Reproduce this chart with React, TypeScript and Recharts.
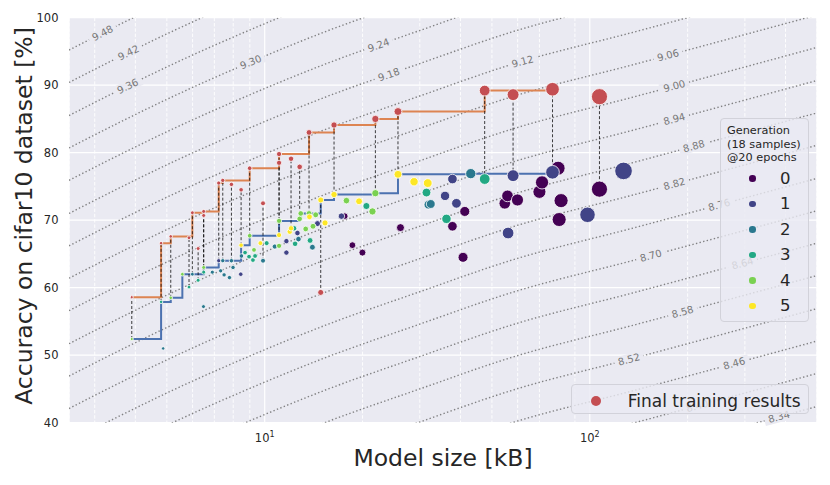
import React from 'react';
import {
    ComposedChart,
    XAxis,
    YAxis,
    CartesianGrid,
    Line,
    Scatter,
    ReferenceDot,
    Label,
} from 'recharts';

// chart geometry
const W = 830;
const H = 485;
const MARGIN = { top: 17.7, right: 13, bottom: 22.3, left: 0 };
const Y_AXIS_W = 69;
const X_AXIS_H = 40;
const PLOT_W = W - MARGIN.right - Y_AXIS_W;
const PLOT_H = H - MARGIN.top - MARGIN.bottom - X_AXIS_H;

const X_DOMAIN: [number, number] = [2.5, 500];
const Y_DOMAIN: [number, number] = [40, 100];
const yTicks = [40, 50, 60, 70, 80, 90, 100];
const xMajorTicks = [10, 100];
const xMinorTicks = [3, 4, 5, 6, 7, 8, 9, 20, 30, 40, 50, 60, 70, 80, 90, 200, 300, 400];

const GEN_COLORS = ['#440154', '#414487', '#2a788e', '#22a884', '#7ad151', '#fde725'];
const RED = '#c44e52';
const ORANGE = '#dd8452';
const BLUE = '#4c72b0';
const BG = '#eaeaf2';
const TEXT = '#262626';

// 20-epoch results per generation: [model size kB, accuracy %]
const gen0: [number, number][] = [
    [17.63, 70.6], [18.61, 66.3], [19.98, 65.2], [26.16, 68.9], [37.8, 69.1], [40.75, 64.5],
    [41.25, 71.3], [54.76, 72.5], [55.83, 73.6], [59.92, 73.0], [70.0, 74.2], [71.3, 75.6],
    [79.9, 77.7], [80.5, 70.1], [81.6, 72.9], [107.1, 74.6],
];
const gen1: [number, number][] = [
    [7.22, 64.0], [8.44, 62.0], [11.66, 65.2], [11.66, 66.9], [12.61, 68.1], [14.53, 69.5],
    [17.22, 70.6], [35.87, 73.6], [37.8, 76.1], [38.89, 72.5], [56.06, 68.1], [58.08, 76.6],
    [76.8, 77.1], [98.4, 70.8], [127.0, 77.3],
];
const gen2: [number, number][] = [
    [4.87, 51.0], [5.99, 62.0], [6.48, 57.2], [6.9, 62.3], [7.32, 62.5], [7.43, 64.0],
    [7.5, 61.9], [7.79, 61.5], [7.9, 64.0], [7.99, 63.0], [8.48, 64.7], [9.88, 64.0],
    [10.74, 66.1], [12.7, 67.2], [14.02, 66.0], [31.89, 72.3], [32.42, 72.4], [43.04, 76.9],
];
const gen3: [number, number][] = [
    [4.8, 57.9], [5.85, 60.1], [6.24, 61.1], [6.49, 62.3], [8.7, 65.2], [8.95, 64.6],
    [9.2, 64.1], [9.34, 64.7], [10.14, 66.6], [12.31, 68.8], [12.4, 66.5], [13.79, 67.0],
    [20.55, 72.1], [31.45, 74.1], [36.23, 70.2], [47.5, 76.1],
];
const gen4: [number, number][] = [
    [3.9, 52.4], [5.14, 58.5], [5.58, 62.0], [6.49, 63.0], [8.99, 67.7], [9.27, 65.6],
    [11.07, 66.2], [11.07, 69.9], [12.81, 70.2], [12.91, 71.0], [13.37, 68.7], [13.69, 71.0],
    [14.08, 69.1], [14.35, 70.8], [17.84, 72.9], [21.45, 71.3], [21.9, 74.0],
];
const gen5: [number, number][] = [
    [8.46, 66.3], [9.7, 66.6], [11.07, 67.8], [11.94, 68.3], [12.05, 68.8], [13.73, 70.5],
    [14.87, 73.0], [15.33, 69.6], [16.34, 73.8], [19.51, 72.8], [25.7, 76.8], [28.8, 75.7],
    [31.73, 75.5],
];
const generations = [gen0, gen1, gen2, gen3, gen4, gen5];

// final training results and the 20-epoch accuracy of the same model
const finalSize = [
    3.9, 4.8, 5.14, 5.85, 5.99, 6.24, 6.49, 6.49, 7.22, 7.43, 7.9, 8.46, 8.99, 9.88,
    11.07, 11.07, 12.05, 12.81, 13.69, 14.87, 16.34, 21.9, 25.7, 47.5, 58.08, 76.8, 107.1,
];
const finalAcc = [
    58.6, 66.6, 67.6, 67.4, 71.1, 65.8, 71.3, 70.7, 75.5, 75.9, 75.3, 74.5, 77.7, 72.5,
    79.8, 78.5, 79.1, 77.9, 83.0, 59.3, 84.1, 85.0, 86.1, 89.2, 88.6, 89.4, 88.3,
];
const finalAcc20 = [
    52.4, 57.9, 58.5, 60.1, 62.0, 61.1, 63.0, 62.3, 64.0, 64.0, 64.0, 66.3, 67.7, 64.0,
    69.9, 67.8, 68.8, 70.2, 71.0, 73.0, 73.8, 74.0, 76.8, 76.1, 76.6, 77.1, 74.6,
];

// iso-score contours: level, accuracy at the left edge, rise along the x axis
const contourLevels = [
    9.48, 9.42, 9.36, 9.3, 9.24, 9.18, 9.12, 9.06, 9.0, 8.94,
    8.88, 8.82, 8.76, 8.7, 8.64, 8.58, 8.52, 8.46, 8.4, 8.34,
];
const contourLeftAcc = [
    95.2, 90.4, 85.5, 80.7, 75.9, 71.0, 66.2, 61.4, 56.6, 51.7,
    46.9, 42.1, 37.2, 32.4, 27.6, 22.8, 17.9, 13.1, 8.3, 3.4,
];
const contourSizes = [2.5, 3.24, 5.2, 8.74, 15.4, 29.5, 57.8, 138.5, 326, 500];
const contourRise = [0, 2.76, 7.59, 12.42, 17.25, 22.08, 26.91, 31.74, 36.57, 39.0];
const contourLabelSizes = [
    3.17, 3.81, 3.79, 9.06, 22.4, 24.1, 62.1, 174, 182, 182,
    209, 182, 250, 154, 295, 193, 132, 278, 214, 382,
];

const toPoints = (arr: [number, number][]) => arr.map(([size, acc]) => ({ size, acc }));

function paretoFront(pts: { size: number; acc: number }[]) {
    const sorted = [...pts].sort((a, b) => a.size - b.size || a.acc - b.acc);
    let best = -Infinity;
    const out: { size: number; acc: number }[] = [];
    for (const p of sorted) {
        if (p.acc > best) {
            best = p.acc;
            out.push(p);
        }
    }
    return out;
}

const radius = (size: number) => 0.78 * Math.sqrt(size);

const finalPoints = finalSize.map((size, i) => ({ size, acc: finalAcc[i] }));
const allGenPoints = generations.flatMap(toPoints);
const blueFront = paretoFront(allGenPoints);
const orangeFront = paretoFront(finalPoints);
const connectors = finalSize.flatMap((size, i) => [
    { size, acc: finalAcc20[i] },
    { size, acc: finalAcc[i] },
    { size, acc: null },
]);

const contourData = contourLeftAcc.map((left) =>
    contourSizes.map((size, k) => ({ size, acc: left + contourRise[k] }))
);

const pxPerAcc = PLOT_H / (Y_DOMAIN[1] - Y_DOMAIN[0]);
const pxPerDecade = PLOT_W / Math.log10(X_DOMAIN[1] / X_DOMAIN[0]);

function contourAt(idx: number, size: number) {
    const ls = Math.log10(size);
    const n = contourSizes.length;
    let k = 0;
    while (k < n - 2 && ls > Math.log10(contourSizes[k + 1])) k++;
    const l0 = Math.log10(contourSizes[k]);
    const l1 = Math.log10(contourSizes[k + 1]);
    const t = (ls - l0) / (l1 - l0);
    const acc = contourLeftAcc[idx] + contourRise[k] + t * (contourRise[k + 1] - contourRise[k]);
    const slope = (contourRise[k + 1] - contourRise[k]) / (l1 - l0);
    const angle = (-Math.atan((slope * pxPerAcc) / pxPerDecade) * 180) / Math.PI;
    return { acc, angle };
}

const XTick = (props: any) => {
    const { x, payload } = props;
    const exp = Math.round(Math.log10(payload.value));
    return (
        <text x={x} y={442} textAnchor="middle" fontSize={11.5} fill={TEXT}>
            10
            <tspan dy={-5} fontSize={8}>{exp}</tspan>
        </text>
    );
};

function GenerationLegend() {
    const rows = [0, 1, 2, 3, 4, 5];
    return (
        <div
            style={{
                position: 'absolute',
                left: 720,
                top: 118.3,
                width: 89.3,
                height: 203.4,
                boxSizing: 'border-box',
                border: '1px solid #d2d2da',
                borderRadius: 4,
                background: 'rgba(234,234,242,0.8)',
            }}
        >
            <div
                style={{
                    position: 'absolute',
                    left: 6,
                    top: 5,
                    fontSize: 11.3,
                    lineHeight: '13.6px',
                    color: TEXT,
                    whiteSpace: 'nowrap',
                }}
            >
                Generation
                <br />
                (18 samples)
                <br />
                @20 epochs
            </div>
            {rows.map((g) => (
                <React.Fragment key={g}>
                    <div
                        style={{
                            position: 'absolute',
                            left: 31.7 - 3.3,
                            top: 59.4 + g * 25.5 - 3.3,
                            width: 6.6,
                            height: 6.6,
                            borderRadius: '50%',
                            background: GEN_COLORS[g],
                        }}
                    />
                    <div
                        style={{
                            position: 'absolute',
                            left: 59,
                            top: 59.4 + g * 25.5 - 10,
                            height: 20,
                            lineHeight: '20px',
                            fontSize: 16.5,
                            color: TEXT,
                        }}
                    >
                        {g}
                    </div>
                </React.Fragment>
            ))}
        </div>
    );
}

function FinalLegend() {
    return (
        <div
            style={{
                position: 'absolute',
                left: 570.7,
                top: 384.3,
                width: 238.6,
                height: 30,
                boxSizing: 'border-box',
                border: '1px solid #d2d2da',
                borderRadius: 4,
                background: 'rgba(234,234,242,0.8)',
            }}
        >
            <div
                style={{
                    position: 'absolute',
                    left: 24.3 - 5,
                    top: 15.7 - 5,
                    width: 10,
                    height: 10,
                    borderRadius: '50%',
                    background: RED,
                }}
            />
            <div
                style={{
                    position: 'absolute',
                    left: 56,
                    top: 15.7 - 11,
                    height: 22,
                    lineHeight: '22px',
                    fontSize: 17,
                    color: TEXT,
                    whiteSpace: 'nowrap',
                }}
            >
                Final training results
            </div>
        </div>
    );
}

export default function App() {
    return (
        <div
            style={{
                position: 'absolute',
                left: 0,
                top: 0,
                width: W,
                height: H,
                background: '#fff',
                fontFamily: '"DejaVu Sans", sans-serif',
            }}
        >
            <ComposedChart width={W} height={H} margin={MARGIN}>
                <CartesianGrid
                    fill={BG}
                    fillOpacity={1}
                    stroke="#fff"
                    strokeWidth={1.2}
                />
                <CartesianGrid
                    xAxisId="minor"
                    horizontal={false}
                    stroke="#fff"
                    strokeWidth={0.9}
                    strokeDasharray="3.5 1.8"
                />
                <XAxis
                    dataKey="size"
                    type="number"
                    scale="log"
                    domain={X_DOMAIN}
                    allowDataOverflow
                    ticks={xMajorTicks}
                    tick={<XTick />}
                    tickLine={false}
                    axisLine={false}
                    height={X_AXIS_H}
                    label={
                        <Label
                            content={() => (
                                <text x={443} y={466} textAnchor="middle" fontSize={23.5} fill={TEXT}>
                                    Model size [kB]
                                </text>
                            )}
                        />
                    }
                />
                <XAxis
                    xAxisId="minor"
                    dataKey="size"
                    type="number"
                    scale="log"
                    domain={X_DOMAIN}
                    allowDataOverflow
                    ticks={xMinorTicks}
                    hide
                />
                <YAxis
                    dataKey="acc"
                    type="number"
                    domain={Y_DOMAIN}
                    allowDataOverflow
                    ticks={yTicks}
                    width={Y_AXIS_W}
                    tickLine={false}
                    axisLine={false}
                    tickSize={0}
                    tickMargin={10.5}
                    tick={{ fontSize: 11.5, fill: TEXT }}
                    label={
                        <Label
                            content={() => (
                                <text
                                    x={24}
                                    y={216}
                                    transform="rotate(-90 24 216)"
                                    textAnchor="middle"
                                    dominantBaseline="central"
                                    fontSize={23.5}
                                    fill={TEXT}
                                >
                                    Accuracy on cifar10 dataset [%]
                                </text>
                            )}
                        />
                    }
                />

                {contourData.map((data, i) => (
                    <Line
                        key={`c${i}`}
                        data={data}
                        dataKey="acc"
                        type="monotone"
                        stroke="#666"
                        strokeOpacity={0.8}
                        strokeWidth={1.4}
                        strokeDasharray="1.4 2.3"
                        dot={false}
                        activeDot={false}
                        isAnimationActive={false}
                    />
                ))}
                {contourLevels.map((level, i) => {
                    const { acc, angle } = contourAt(i, contourLabelSizes[i]);
                    return (
                        <ReferenceDot
                            key={`l${i}`}
                            x={contourLabelSizes[i]}
                            y={acc}
                            r={0}
                            ifOverflow="visible"
                            shape={(p: any) => (
                                <g transform={`rotate(${angle} ${p.cx} ${p.cy})`}>
                                    <rect x={p.cx - 15} y={p.cy - 5.5} width={30} height={11} fill={BG} />
                                    <text
                                        x={p.cx}
                                        y={p.cy}
                                        textAnchor="middle"
                                        dominantBaseline="central"
                                        fontSize={10}
                                        fill="#777"
                                    >
                                        {level.toFixed(2)}
                                    </text>
                                </g>
                            )}
                        />
                    );
                })}

                <Line
                    data={blueFront}
                    dataKey="acc"
                    type="stepAfter"
                    stroke={BLUE}
                    strokeWidth={2}
                    dot={false}
                    activeDot={false}
                    isAnimationActive={false}
                />
                <Line
                    data={orangeFront}
                    dataKey="acc"
                    type="stepAfter"
                    stroke={ORANGE}
                    strokeWidth={2}
                    dot={false}
                    activeDot={false}
                    isAnimationActive={false}
                />

                {generations.map((g, gi) => (
                    <Scatter
                        key={`g${gi}`}
                        data={toPoints(g)}
                        dataKey="acc"
                        isAnimationActive={false}
                        shape={(p: any) => (
                            <circle
                                cx={p.cx}
                                cy={p.cy}
                                r={radius(p.payload.size)}
                                fill={GEN_COLORS[gi]}
                                stroke="#fff"
                                strokeWidth={0.8}
                            />
                        )}
                    />
                ))}

                <Line
                    data={connectors}
                    dataKey="acc"
                    type="linear"
                    stroke="#000"
                    strokeOpacity={0.75}
                    strokeWidth={1}
                    strokeDasharray="3 2"
                    dot={false}
                    activeDot={false}
                    isAnimationActive={false}
                />
                <Scatter
                    data={finalPoints}
                    dataKey="acc"
                    isAnimationActive={false}
                    shape={(p: any) => (
                        <circle
                            cx={p.cx}
                            cy={p.cy}
                            r={radius(p.payload.size)}
                            fill={RED}
                            stroke="#fff"
                            strokeWidth={0.8}
                        />
                    )}
                />
            </ComposedChart>
            <GenerationLegend />
            <FinalLegend />
        </div>
    );
}
